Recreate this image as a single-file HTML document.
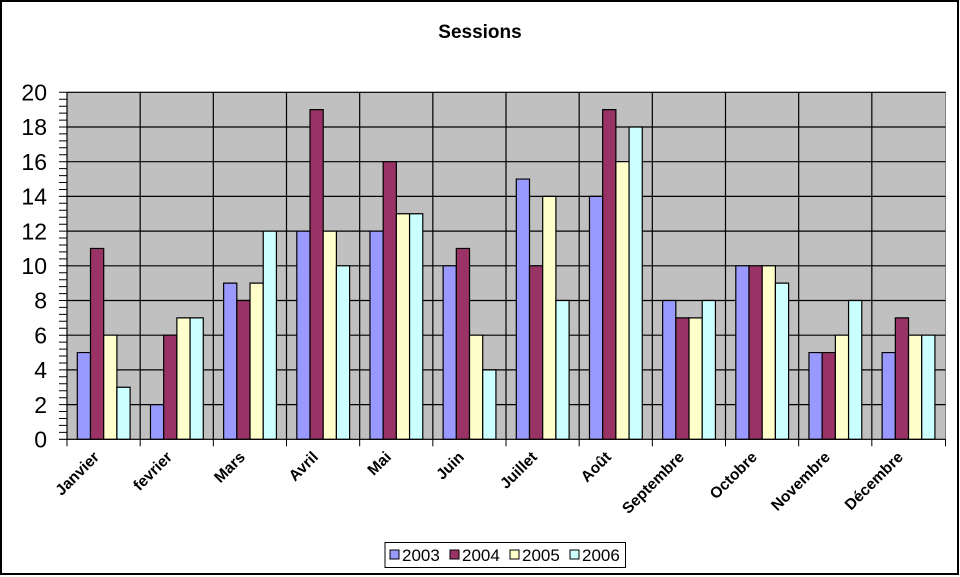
<!DOCTYPE html>
<html><head><meta charset="utf-8"><style>
html,body{margin:0;padding:0;background:#fff}
svg{display:block;font-family:"Liberation Sans",Arial,sans-serif}
</style></head><body>
<svg width="960" height="577" viewBox="0 0 960 577" xmlns="http://www.w3.org/2000/svg">
<rect x="1" y="1" width="957" height="573" fill="#fff" stroke="#000" stroke-width="2"/>
<text x="480" y="38" text-anchor="middle" font-size="19" font-weight="bold">Sessions</text>
<rect x="67" y="92.3" width="878.5" height="347" fill="#c0c0c0" stroke="#808080" stroke-width="1"/>
<g stroke="#000" stroke-width="1.2">
<line x1="67" y1="92.3" x2="945.5" y2="92.3"/>
<line x1="67" y1="127" x2="945.5" y2="127"/>
<line x1="67" y1="161.7" x2="945.5" y2="161.7"/>
<line x1="67" y1="196.4" x2="945.5" y2="196.4"/>
<line x1="67" y1="231.1" x2="945.5" y2="231.1"/>
<line x1="67" y1="265.8" x2="945.5" y2="265.8"/>
<line x1="67" y1="300.5" x2="945.5" y2="300.5"/>
<line x1="67" y1="335.2" x2="945.5" y2="335.2"/>
<line x1="67" y1="369.9" x2="945.5" y2="369.9"/>
<line x1="67" y1="404.6" x2="945.5" y2="404.6"/>
<line x1="140.17" y1="92.3" x2="140.17" y2="439.3"/>
<line x1="213.33" y1="92.3" x2="213.33" y2="439.3"/>
<line x1="286.5" y1="92.3" x2="286.5" y2="439.3"/>
<line x1="359.67" y1="92.3" x2="359.67" y2="439.3"/>
<line x1="432.83" y1="92.3" x2="432.83" y2="439.3"/>
<line x1="506" y1="92.3" x2="506" y2="439.3"/>
<line x1="579.17" y1="92.3" x2="579.17" y2="439.3"/>
<line x1="652.33" y1="92.3" x2="652.33" y2="439.3"/>
<line x1="725.5" y1="92.3" x2="725.5" y2="439.3"/>
<line x1="798.67" y1="92.3" x2="798.67" y2="439.3"/>
<line x1="871.83" y1="92.3" x2="871.83" y2="439.3"/>
</g>
<g stroke="#000" stroke-width="1.2">
<g transform="translate(67,439.3) scale(1,-17.35)"><rect x="10.3" y="0" width="13.2" height="5" fill="#9999ff" vector-effect="non-scaling-stroke"/><rect x="23.5" y="0" width="13.2" height="11" fill="#993366" vector-effect="non-scaling-stroke"/><rect x="36.7" y="0" width="13.2" height="6" fill="#ffffcc" vector-effect="non-scaling-stroke"/><rect x="49.9" y="0" width="13.2" height="3" fill="#ccffff" vector-effect="non-scaling-stroke"/></g>
<g transform="translate(140.17,439.3) scale(1,-17.35)"><rect x="10.3" y="0" width="13.2" height="2" fill="#9999ff" vector-effect="non-scaling-stroke"/><rect x="23.5" y="0" width="13.2" height="6" fill="#993366" vector-effect="non-scaling-stroke"/><rect x="36.7" y="0" width="13.2" height="7" fill="#ffffcc" vector-effect="non-scaling-stroke"/><rect x="49.9" y="0" width="13.2" height="7" fill="#ccffff" vector-effect="non-scaling-stroke"/></g>
<g transform="translate(213.33,439.3) scale(1,-17.35)"><rect x="10.3" y="0" width="13.2" height="9" fill="#9999ff" vector-effect="non-scaling-stroke"/><rect x="23.5" y="0" width="13.2" height="8" fill="#993366" vector-effect="non-scaling-stroke"/><rect x="36.7" y="0" width="13.2" height="9" fill="#ffffcc" vector-effect="non-scaling-stroke"/><rect x="49.9" y="0" width="13.2" height="12" fill="#ccffff" vector-effect="non-scaling-stroke"/></g>
<g transform="translate(286.5,439.3) scale(1,-17.35)"><rect x="10.3" y="0" width="13.2" height="12" fill="#9999ff" vector-effect="non-scaling-stroke"/><rect x="23.5" y="0" width="13.2" height="19" fill="#993366" vector-effect="non-scaling-stroke"/><rect x="36.7" y="0" width="13.2" height="12" fill="#ffffcc" vector-effect="non-scaling-stroke"/><rect x="49.9" y="0" width="13.2" height="10" fill="#ccffff" vector-effect="non-scaling-stroke"/></g>
<g transform="translate(359.67,439.3) scale(1,-17.35)"><rect x="10.3" y="0" width="13.2" height="12" fill="#9999ff" vector-effect="non-scaling-stroke"/><rect x="23.5" y="0" width="13.2" height="16" fill="#993366" vector-effect="non-scaling-stroke"/><rect x="36.7" y="0" width="13.2" height="13" fill="#ffffcc" vector-effect="non-scaling-stroke"/><rect x="49.9" y="0" width="13.2" height="13" fill="#ccffff" vector-effect="non-scaling-stroke"/></g>
<g transform="translate(432.83,439.3) scale(1,-17.35)"><rect x="10.3" y="0" width="13.2" height="10" fill="#9999ff" vector-effect="non-scaling-stroke"/><rect x="23.5" y="0" width="13.2" height="11" fill="#993366" vector-effect="non-scaling-stroke"/><rect x="36.7" y="0" width="13.2" height="6" fill="#ffffcc" vector-effect="non-scaling-stroke"/><rect x="49.9" y="0" width="13.2" height="4" fill="#ccffff" vector-effect="non-scaling-stroke"/></g>
<g transform="translate(506,439.3) scale(1,-17.35)"><rect x="10.3" y="0" width="13.2" height="15" fill="#9999ff" vector-effect="non-scaling-stroke"/><rect x="23.5" y="0" width="13.2" height="10" fill="#993366" vector-effect="non-scaling-stroke"/><rect x="36.7" y="0" width="13.2" height="14" fill="#ffffcc" vector-effect="non-scaling-stroke"/><rect x="49.9" y="0" width="13.2" height="8" fill="#ccffff" vector-effect="non-scaling-stroke"/></g>
<g transform="translate(579.17,439.3) scale(1,-17.35)"><rect x="10.3" y="0" width="13.2" height="14" fill="#9999ff" vector-effect="non-scaling-stroke"/><rect x="23.5" y="0" width="13.2" height="19" fill="#993366" vector-effect="non-scaling-stroke"/><rect x="36.7" y="0" width="13.2" height="16" fill="#ffffcc" vector-effect="non-scaling-stroke"/><rect x="49.9" y="0" width="13.2" height="18" fill="#ccffff" vector-effect="non-scaling-stroke"/></g>
<g transform="translate(652.33,439.3) scale(1,-17.35)"><rect x="10.3" y="0" width="13.2" height="8" fill="#9999ff" vector-effect="non-scaling-stroke"/><rect x="23.5" y="0" width="13.2" height="7" fill="#993366" vector-effect="non-scaling-stroke"/><rect x="36.7" y="0" width="13.2" height="7" fill="#ffffcc" vector-effect="non-scaling-stroke"/><rect x="49.9" y="0" width="13.2" height="8" fill="#ccffff" vector-effect="non-scaling-stroke"/></g>
<g transform="translate(725.5,439.3) scale(1,-17.35)"><rect x="10.3" y="0" width="13.2" height="10" fill="#9999ff" vector-effect="non-scaling-stroke"/><rect x="23.5" y="0" width="13.2" height="10" fill="#993366" vector-effect="non-scaling-stroke"/><rect x="36.7" y="0" width="13.2" height="10" fill="#ffffcc" vector-effect="non-scaling-stroke"/><rect x="49.9" y="0" width="13.2" height="9" fill="#ccffff" vector-effect="non-scaling-stroke"/></g>
<g transform="translate(798.67,439.3) scale(1,-17.35)"><rect x="10.3" y="0" width="13.2" height="5" fill="#9999ff" vector-effect="non-scaling-stroke"/><rect x="23.5" y="0" width="13.2" height="5" fill="#993366" vector-effect="non-scaling-stroke"/><rect x="36.7" y="0" width="13.2" height="6" fill="#ffffcc" vector-effect="non-scaling-stroke"/><rect x="49.9" y="0" width="13.2" height="8" fill="#ccffff" vector-effect="non-scaling-stroke"/></g>
<g transform="translate(871.83,439.3) scale(1,-17.35)"><rect x="10.3" y="0" width="13.2" height="5" fill="#9999ff" vector-effect="non-scaling-stroke"/><rect x="23.5" y="0" width="13.2" height="7" fill="#993366" vector-effect="non-scaling-stroke"/><rect x="36.7" y="0" width="13.2" height="6" fill="#ffffcc" vector-effect="non-scaling-stroke"/><rect x="49.9" y="0" width="13.2" height="6" fill="#ccffff" vector-effect="non-scaling-stroke"/></g>
</g>
<g stroke="#000" stroke-width="1.2">
<line x1="67" y1="92.3" x2="67" y2="439.3"/>
<line x1="59" y1="439.3" x2="945.5" y2="439.3"/>
</g>
<path stroke="#000" stroke-width="1" fill="none" d="M59 92.3h8M59 99.2h8M59 106.2h8M59 113.1h8M59 120.1h8M59 127h8M59 133.9h8M59 140.9h8M59 147.8h8M59 154.8h8M59 161.7h8M59 168.6h8M59 175.6h8M59 182.5h8M59 189.5h8M59 196.4h8M59 203.3h8M59 210.3h8M59 217.2h8M59 224.2h8M59 231.1h8M59 238h8M59 245h8M59 251.9h8M59 258.9h8M59 265.8h8M59 272.7h8M59 279.7h8M59 286.6h8M59 293.6h8M59 300.5h8M59 307.4h8M59 314.4h8M59 321.3h8M59 328.3h8M59 335.2h8M59 342.1h8M59 349.1h8M59 356h8M59 363h8M59 369.9h8M59 376.8h8M59 383.8h8M59 390.7h8M59 397.7h8M59 404.6h8M59 411.5h8M59 418.5h8M59 425.4h8M59 432.4h8
M67 439.3v7M140.17 439.3v7M213.33 439.3v7M286.5 439.3v7M359.67 439.3v7M432.83 439.3v7M506 439.3v7M579.17 439.3v7M652.33 439.3v7M725.5 439.3v7M798.67 439.3v7M871.83 439.3v7M945.5 439.3v7"/>
<g font-size="23" text-anchor="end">
<text x="47" y="100.5">20</text>
<text x="47" y="135.2">18</text>
<text x="47" y="169.9">16</text>
<text x="47" y="204.6">14</text>
<text x="47" y="239.3">12</text>
<text x="47" y="274">10</text>
<text x="47" y="308.7">8</text>
<text x="47" y="343.4">6</text>
<text x="47" y="378.1">4</text>
<text x="47" y="412.8">2</text>
<text x="47" y="447.5">0</text>
</g>
<g font-size="15.5" font-weight="bold" text-anchor="end">
<text transform="translate(100,458) rotate(-45)">Janvier</text>
<text transform="translate(173,458) rotate(-45)">fevrier</text>
<text transform="translate(246,458) rotate(-45)">Mars</text>
<text transform="translate(319,458) rotate(-45)">Avril</text>
<text transform="translate(392,458) rotate(-45)">Mai</text>
<text transform="translate(465,458) rotate(-45)">Juin</text>
<text transform="translate(538,458) rotate(-45)">Juillet</text>
<text transform="translate(612,458) rotate(-45)">Août</text>
<text transform="translate(685,458) rotate(-45)">Septembre</text>
<text transform="translate(758,458) rotate(-45)">Octobre</text>
<text transform="translate(831,458) rotate(-45)">Novembre</text>
<text transform="translate(904,458) rotate(-45)">Décembre</text>
</g>
<rect x="385" y="542.5" width="240.5" height="25" fill="#fff" stroke="#000" stroke-width="1"/>
<g stroke="#000" stroke-width="1">
<rect x="390" y="550" width="9" height="9" fill="#9999ff"/>
<rect x="450" y="550" width="9" height="9" fill="#993366"/>
<rect x="510" y="550" width="9" height="9" fill="#ffffcc"/>
<rect x="570" y="550" width="9" height="9" fill="#ccffff"/>
</g>
<g font-size="17">
<text x="402" y="561">2003</text>
<text x="462" y="561">2004</text>
<text x="522" y="561">2005</text>
<text x="582" y="561">2006</text>
</g>
</svg>
</body></html>
